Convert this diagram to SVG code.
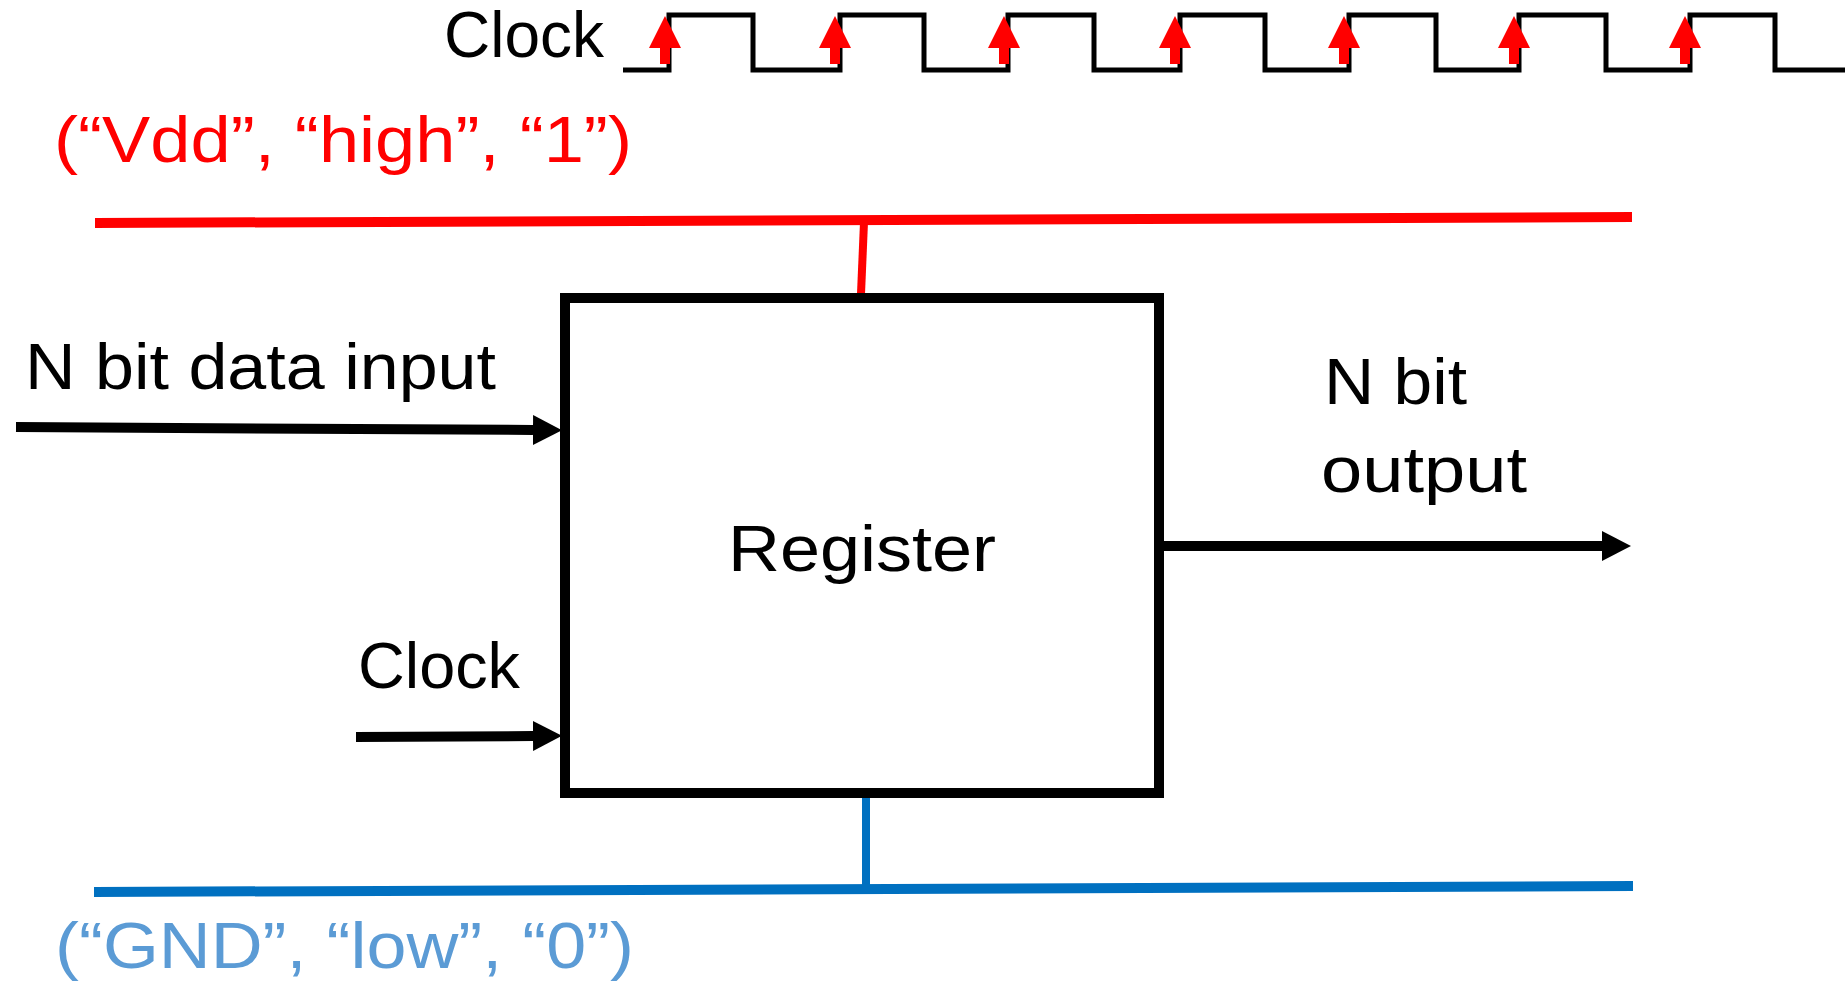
<svg xmlns="http://www.w3.org/2000/svg" width="1845" height="981" viewBox="0 0 1845 981">
  <defs>
    <style>
      .t { font-family: "Liberation Sans", Arial, sans-serif; font-size: 65px; fill: #000; }
      .red { fill: #FF0000; }
      .blue { fill: #5B9BD5; }
      .wire { fill: none; stroke: #000; stroke-width: 10; }
      .wave { fill: none; stroke: #000; stroke-width: 5; }
      .clk { fill: #FF0000; }
    </style>
    <marker id="ah" markerUnits="userSpaceOnUse" markerWidth="29" markerHeight="30" refX="0" refY="15" orient="auto">
      <path d="M0,0 L29,15 L0,30 z" fill="#000"/>
    </marker>
  </defs>
  <rect width="1845" height="981" fill="#fff"/>

  <g id="clock-waveform">
    <text class="t" x="444" y="57" font-size="62" textLength="160" lengthAdjust="spacingAndGlyphs">Clock</text>
    <path class="wave" d="M623,70 H669 V15 H753 V70 H840 V15 H924 V70 H1008 V15 H1094 V70 H1180 V15 H1265 V70 H1349 V15 H1436 V70 H1519 V15 H1606 V70 H1690 V15 H1775 V70 H1845"/>
    <g id="edge-arrows" class="clk">
      <path d="M665,16 L681,48 L670,48 L670,64 L660,64 L660,48 L649,48 z"/>
      <path d="M835,16 L851,48 L840,48 L840,64 L830,64 L830,48 L819,48 z"/>
      <path d="M1004,16 L1020,48 L1009,48 L1009,64 L999,64 L999,48 L988,48 z"/>
      <path d="M1175,16 L1191,48 L1180,48 L1180,64 L1170,64 L1170,48 L1159,48 z"/>
      <path d="M1344,16 L1360,48 L1349,48 L1349,64 L1339,64 L1339,48 L1328,48 z"/>
      <path d="M1514,16 L1530,48 L1519,48 L1519,64 L1509,64 L1509,48 L1498,48 z"/>
      <path d="M1685,16 L1701,48 L1690,48 L1690,64 L1680,64 L1680,48 L1669,48 z"/>
    </g>
  </g>

  <g id="vdd-label">
    <text class="t red" x="54" y="162" textLength="578" lengthAdjust="spacingAndGlyphs">(“Vdd”, “high”, “1”)</text>
  </g>

  <g id="connectors">
    <line x1="95" y1="223" x2="1632" y2="217" stroke="#FF0000" stroke-width="10"/>
    <line x1="864" y1="222" x2="861" y2="294" stroke="#FF0000" stroke-width="8"/>
    <line x1="94" y1="892" x2="1633" y2="886" stroke="#0070C0" stroke-width="10"/>
    <line x1="866" y1="794" x2="866" y2="888" stroke="#0070C0" stroke-width="8"/>
    <line class="wire" x1="16" y1="427" x2="533" y2="430" marker-end="url(#ah)"/>
    <line class="wire" x1="356" y1="737" x2="533" y2="736" marker-end="url(#ah)"/>
    <line class="wire" x1="1163" y1="546" x2="1602" y2="546" marker-end="url(#ah)"/>
  </g>

  <g id="register">
    <rect x="565" y="298" width="594" height="495" fill="#fff" stroke="#000" stroke-width="10"/>
    <text class="t" x="728" y="571" font-size="70" textLength="268" lengthAdjust="spacingAndGlyphs">Register</text>
  </g>

  <g id="data-input-label">
    <text class="t" x="25" y="389" textLength="471" lengthAdjust="spacingAndGlyphs">N bit data input</text>
  </g>

  <g id="clock-input-label">
    <text class="t" x="358" y="688" textLength="162" lengthAdjust="spacingAndGlyphs">Clock</text>
  </g>

  <g id="output-label">
    <text class="t" x="1324" y="404" textLength="143" lengthAdjust="spacingAndGlyphs">N bit</text>
    <text class="t" x="1321" y="492" textLength="206" lengthAdjust="spacingAndGlyphs">output</text>
  </g>

  <g id="gnd-label">
    <text class="t blue" x="55" y="968" textLength="579" lengthAdjust="spacingAndGlyphs">(“GND”, “low”, “0”)</text>
  </g>
</svg>
